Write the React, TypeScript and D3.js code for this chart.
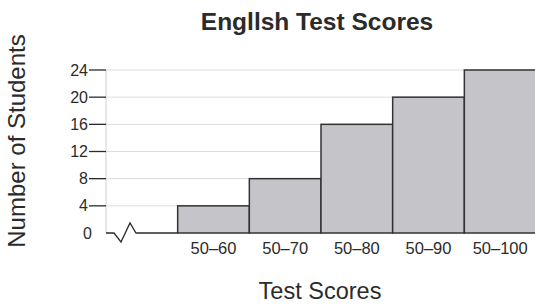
import React, { useEffect, useRef } from 'react';
import * as d3 from 'd3';

const categories = ['50–60', '50–70', '50–80', '50–90', '50–100'];
const students = [4, 8, 16, 20, 24];
const yTicks = [0, 4, 8, 12, 16, 20, 24];

const App = () => {
  const chartRef = useRef<SVGSVGElement>(null);

  useEffect(() => {
    const width = 535;
    const height = 305;
    const left = 106;
    const top = 70;
    const bottom = 233;
    const font = '"Liberation Sans", Arial, Helvetica, sans-serif';
    const ink = '#2b2b2b';

    const svg = d3.select(chartRef.current)
      .attr('width', width)
      .attr('height', height);
    svg.selectAll('*').remove();

    // first slot is the axis break, bars fill the rest
    const x = d3.scaleBand()
      .domain(['break', ...categories])
      .range([left, 536])
      .padding(0);

    const y = d3.scaleLinear()
      .domain([0, 24])
      .range([bottom, top]);

    // grid
    svg.append('g')
      .selectAll('line')
      .data(yTicks.filter(d => d > 0))
      .enter().append('line')
      .attr('x1', left)
      .attr('x2', width)
      .attr('y1', d => y(d))
      .attr('y2', d => y(d))
      .attr('stroke', '#dcdcdc')
      .attr('stroke-width', 1);

    svg.append('line')
      .attr('x1', left).attr('x2', left)
      .attr('y1', y(24)).attr('y2', y(0))
      .attr('stroke', '#d0d0d0');

    // y ticks
    const yAxis = svg.append('g');
    yAxis.selectAll('line')
      .data(yTicks.filter(d => d > 0))
      .enter().append('line')
      .attr('x1', 89)
      .attr('x2', left)
      .attr('y1', d => y(d))
      .attr('y2', d => y(d))
      .attr('stroke', ink)
      .attr('stroke-width', 1.3);
    yAxis.selectAll('text')
      .data(yTicks)
      .enter().append('text')
      .attr('x', d => (d === 0 ? 92 : 88))
      .attr('y', d => y(d))
      .attr('dy', '0.35em')
      .attr('text-anchor', 'end')
      .attr('font-family', font)
      .attr('font-size', 16)
      .attr('fill', ink)
      .text(d => d);

    // bars
    svg.append('g')
      .selectAll('rect')
      .data(students)
      .enter().append('rect')
      .attr('x', (d, i) => x(categories[i]))
      .attr('y', d => y(d))
      .attr('width', x.bandwidth())
      .attr('height', d => y(0) - y(d))
      .attr('fill', '#c5c5c9')
      .attr('stroke', '#333')
      .attr('stroke-width', 1.5);

    // baseline with break
    const bx = x('break');
    const line = d3.line();
    svg.append('path')
      .attr('d', line([
        [bx, y(0)],
        [bx + 8, y(0)],
        [bx + 15, y(0) + 9],
        [bx + 24, y(0) - 10],
        [bx + 30, y(0)],
        [x(categories[0]), y(0)],
      ]))
      .attr('fill', 'none')
      .attr('stroke', ink)
      .attr('stroke-width', 1.3);

    // x labels
    svg.append('g')
      .selectAll('text')
      .data(categories)
      .enter().append('text')
      .attr('x', d => x(d) + x.bandwidth() / 2)
      .attr('y', 254)
      .attr('text-anchor', 'middle')
      .attr('font-family', font)
      .attr('font-size', 16.5)
      .attr('fill', ink)
      .text(d => d);

    svg.append('text')
      .attr('x', 317)
      .attr('y', 30)
      .attr('text-anchor', 'middle')
      .attr('font-family', font)
      .attr('font-weight', 'bold')
      .attr('font-size', 24.5)
      .attr('fill', ink)
      .text('Engllsh Test Scores');

    svg.append('text')
      .attr('x', 320)
      .attr('y', 299)
      .attr('text-anchor', 'middle')
      .attr('font-family', font)
      .attr('font-size', 23.5)
      .attr('fill', ink)
      .text('Test Scores');

    svg.append('text')
      .attr('transform', 'translate(25,141) rotate(-90)')
      .attr('text-anchor', 'middle')
      .attr('font-family', font)
      .attr('font-size', 24)
      .attr('fill', ink)
      .text('Number of Students');
  }, []);

  return (
    <svg ref={chartRef} style={{ position: 'absolute', left: 0, top: 0, background: '#fff' }}></svg>
  );
};

export default App;
